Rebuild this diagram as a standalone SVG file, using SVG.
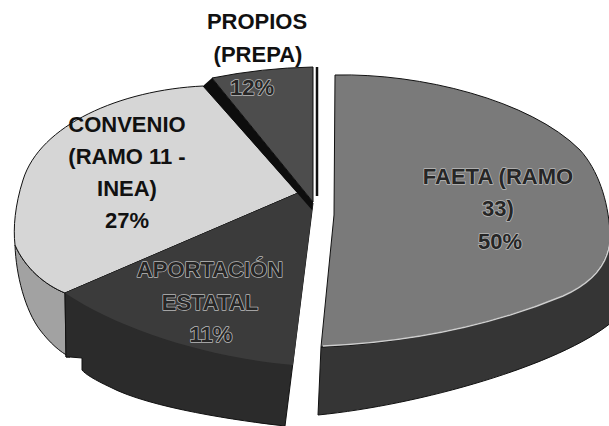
<svg xmlns="http://www.w3.org/2000/svg" width="609" height="426" viewBox="0 0 609 426">
<style>
.lb{font-family:"Liberation Sans",Arial,sans-serif;font-weight:bold;font-size:22px;text-anchor:middle}
.blk{fill:#111}
.halo{fill:#262626;stroke:#b8b8b8;stroke-width:1.5;paint-order:stroke;stroke-linejoin:round}
.edge{stroke:#111;stroke-width:1;stroke-linejoin:round}
</style>
<rect width="609" height="426" fill="#fff"/>
<g id="connectors"/>
<g id="slice-faeta">
<path class="edge" fill="#353535" d="M321,347 L318,415 C420,405 560,365 612,322 L612,232 C611,262 592,283 563,296 C500,322 420,342 321,347 Z"/>
<path class="edge" fill="#7a7a7a" d="M335,75 C420,73 530,100 580,150 C598,170 608,200 610,232 C611,262 592,283 563,296 C500,322 420,342 321,347 L334,215 Z"/>
<path fill="none" stroke="#cfcfcf" stroke-width="1.5" d="M610,240 C608,266 590,284 563,296 C500,322 420,342 323,346"/>
<text class="lb halo" x="498" y="184">FAETA (RAMO</text>
<text class="lb halo" x="498" y="216">33)</text>
<text class="lb halo" x="500" y="249">50%</text>
</g>
<g id="slice-convenio">
<path class="edge" fill="#a2a2a2" d="M15,245 C16,275 25,310 40,330 C50,343 60,352 70,357 L66,357 L65,293 C45,285 25,268 15,245 Z"/>
<path class="edge" fill="#d6d6d6" d="M298,193 L203,86 C120,90 40,125 23,180 C15,205 13,228 15,245 C25,268 45,285 65,293 Z"/>
<text class="lb blk" x="127" y="132">CONVENIO</text>
<text class="lb blk" x="127" y="164">(RAMO 11 -</text>
<text class="lb blk" x="127" y="196">INEA)</text>
<text class="lb blk" x="127" y="228">27%</text>
</g>
<g id="slice-aportacion">
<path class="edge" fill="#2b2b2b" d="M298,193 L313,203 L285,426 C240,421 150,408 110,387 C95,380 85,374 82,370 L82,358 L70,357 L66,357 L65,293 Z"/>
<path fill="#3b3b3b" d="M298,193 L313,203 L293,365 C210,358 120,330 65,293 Z"/>
<text class="lb halo" x="210" y="277">APORTACIÓN</text>
<text class="lb halo" x="210" y="310">ESTATAL</text>
<text class="lb halo" x="211" y="342">11%</text>
</g>
<g id="slice-propios">
<path class="edge" fill="#4d4d4d" d="M212,78 Q262,68 313,67 L313,202 Z"/>
<path fill="#0d0d0d" d="M212,78 L313,202 L312,210 L298,194 L203,86 Z"/>
<line x1="317" y1="67" x2="317" y2="196" stroke="#111" stroke-width="2.5"/>
<text class="lb blk" x="257" y="29">PROPIOS</text>
<text class="lb blk" x="258" y="62">(PREPA)</text>
<text class="lb halo" x="252" y="95">12%</text>
</g>
</svg>
